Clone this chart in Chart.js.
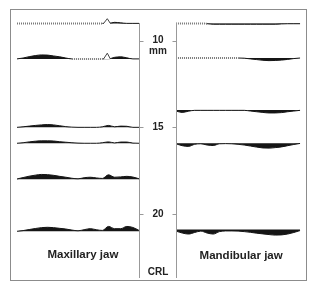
<!DOCTYPE html>
<html>
<head>
<meta charset="utf-8">
<script src="https://cdn.jsdelivr.net/npm/chart.js@4/dist/chart.umd.min.js"></script>
<style>
  html, body { margin: 0; padding: 0; background: #fff; }
  #wrap { width: 313px; height: 288px; }
</style>
</head>
<body>
<div id="wrap"><canvas id="chart" width="313" height="288"></canvas></div>
<script>
// position along each jaw section (0 = start, 100 = end), shared by all profiles
const positions = [0, 5, 10, 15, 20, 25, 30, 35, 40, 45, 50, 55, 60, 65, 70, 75, 80, 85, 90, 95, 100];

// CRL (mm) of each section
const maxillaryCrl = [9.0, 11.05, 15.0, 15.92, 18.0, 21.0];
const mandibularCrl = [9.0, 11.0, 14.0, 15.92, 20.9];

// thickness (mm) of the maxillary profiles
const max1 = [0, 0, 0, 0, 0, 0, 0, 0, 0, 0, 0, 0, 0, 0, 0, 0, 0.06, 0.03, 0, 0, 0];
const max2 = [0, 0.05, 0.13, 0.19, 0.23, 0.22, 0.17, 0.12, 0.05, 0, 0, 0, 0, 0, 0, 0, 0.09, 0.12, 0.06, 0, 0];
const max3 = [0, 0.03, 0.07, 0.11, 0.14, 0.16, 0.14, 0.09, 0.04, 0.01, 0, 0, 0, 0, 0.03, 0.11, 0.03, 0.07, 0.06, 0, 0];
const max4 = [0, 0.03, 0.08, 0.12, 0.14, 0.14, 0.13, 0.09, 0.06, 0.03, 0.01, 0, 0, 0, 0.03, 0.08, 0.02, 0.07, 0.07, 0.01, 0];
const max5 = [0.02, 0.10, 0.18, 0.24, 0.28, 0.27, 0.23, 0.17, 0.12, 0.06, 0.03, 0.09, 0.12, 0.08, 0.05, 0.26, 0.12, 0.14, 0.17, 0.13, 0.03];
const max6 = [0, 0.04, 0.10, 0.16, 0.21, 0.23, 0.21, 0.17, 0.13, 0.07, 0.03, 0.09, 0.15, 0.09, 0.05, 0.28, 0.15, 0.15, 0.28, 0.22, 0.05];

// thickness (mm) of the mandibular profiles
const man1 = [0, 0, 0, 0, 0, 0.02, 0.05, 0.05, 0.05, 0.05, 0.05, 0.05, 0.05, 0.05, 0.05, 0.05, 0.05, 0.03, 0.02, 0.02, 0.02];
const man2 = [0, 0, 0, 0, 0, 0, 0, 0, 0, 0, 0, 0.01, 0.05, 0.09, 0.13, 0.15, 0.14, 0.12, 0.08, 0.03, 0];
const man3 = [0.06, 0.14, 0.07, 0.02, 0.02, 0.02, 0.02, 0.02, 0.02, 0.02, 0.02, 0.02, 0.06, 0.10, 0.14, 0.17, 0.17, 0.15, 0.10, 0.06, 0.02];
const man4 = [0.03, 0.14, 0.18, 0.06, 0.03, 0.10, 0.13, 0.03, 0.02, 0.03, 0.06, 0.10, 0.16, 0.22, 0.27, 0.28, 0.25, 0.21, 0.14, 0.07, 0.01];
const man5 = [0.09, 0.20, 0.26, 0.17, 0.09, 0.20, 0.26, 0.12, 0.08, 0.08, 0.09, 0.12, 0.16, 0.21, 0.25, 0.29, 0.32, 0.31, 0.26, 0.17, 0.06];

const maxillary = [max1, max2, max3, max4, max5, max6];
const mandibular = [man1, man2, man3, man4, man5];

// stippled stretches [from, to] of each profile
const maxillaryDotted = [[[0, 70]], [[45, 70]], [], [], [], []];
const mandibularDotted = [[[0, 25]], [[0, 50]], [], [], []];

// hollow peak on the two upper maxillary sections
const peakPos = [71, 74, 76.5];
const peakHeight = [0.27, 0.33];

// central CRL axis
const tickValues = [10, 15, 20];
const tickLabels = ['10', '15', '20'];
const unitLabel = 'mm';
const axisTitle = 'CRL';
const panelLabels = ['Maxillary jaw', 'Mandibular jaw'];

const INK = '#151515';

function profile(crl, thick, dotted, axis, dir) {
  return {
    data: positions.map((p, i) => ({ x: p, y: crl + dir * thick[i] })),
    xAxisID: axis,
    borderColor: INK,
    borderWidth: 1,
    backgroundColor: INK,
    fill: { value: crl },
    pointRadius: 0,
    cubicInterpolationMode: 'monotone',
    segment: {
      borderColor: ctx => inDots(ctx, dotted) ? '#7a7a7a' : undefined,
      borderDash: ctx => inDots(ctx, dotted) ? [1, 1] : undefined,
      borderWidth: ctx => inDots(ctx, dotted) ? 2 : undefined
    }
  };
}

function inDots(ctx, dotted) {
  return dotted.some(([a, b]) => ctx.p0.parsed.x >= a && ctx.p1.parsed.x <= b);
}

const datasets = [];
maxillary.forEach((t, i) => datasets.push(profile(maxillaryCrl[i], t, maxillaryDotted[i], 'xL', -1)));
mandibular.forEach((t, i) => datasets.push(profile(mandibularCrl[i], t, mandibularDotted[i], 'xR', 1)));
peakHeight.forEach((h, i) => {
  const c = maxillaryCrl[i];
  datasets.push({
    data: [{ x: peakPos[0], y: c }, { x: peakPos[1], y: c - h }, { x: peakPos[2], y: c }],
    xAxisID: 'xL',
    order: -1,
    borderColor: '#444',
    borderWidth: 1,
    backgroundColor: '#fff',
    pointRadius: 0,
    fill: { value: c + 0.03 },
    tension: 0
  });
});

const frame = {
  id: 'frame',
  afterDatasetsDraw(chart) {
    const { ctx, chartArea: a, scales } = chart;
    const y = scales.y, xL = scales.xL, xR = scales.xR;
    const lx = Math.round(xL.getPixelForValue(100)) + 0.5;
    const rx = Math.round(xR.getPixelForValue(0)) + 0.5;
    const top = Math.round(y.getPixelForValue(maxillaryCrl[0]));
    const mid = (lx + rx) / 2;
    ctx.save();
    ctx.strokeStyle = '#8c8c8c';
    ctx.lineWidth = 1;
    ctx.strokeRect(a.left + 0.5, a.top + 0.5, a.right - a.left - 1, a.bottom - a.top - 1);
    ctx.strokeStyle = '#999';
    ctx.beginPath();
    ctx.moveTo(lx, top); ctx.lineTo(lx, a.bottom - 3);
    ctx.moveTo(rx, top); ctx.lineTo(rx, a.bottom - 3);
    tickValues.forEach(v => {
      const ty = Math.round(y.getPixelForValue(v)) + 0.5;
      ctx.moveTo(lx, ty); ctx.lineTo(lx + 4, ty);
      ctx.moveTo(rx - 4, ty); ctx.lineTo(rx, ty);
    });
    ctx.stroke();
    ctx.fillStyle = '#222';
    ctx.textAlign = 'center';
    ctx.textBaseline = 'middle';
    ctx.font = 'bold 10px "Liberation Sans", Arial, sans-serif';
    tickValues.forEach((v, i) => ctx.fillText(tickLabels[i], mid, y.getPixelForValue(v)));
    ctx.fillText(unitLabel, mid, y.getPixelForValue(tickValues[0]) + 11);
    ctx.fillText(axisTitle, mid, a.bottom - 9);
    ctx.font = 'bold 11.5px "Liberation Sans", Arial, sans-serif';
    ctx.fillText(panelLabels[0], xL.getPixelForValue(54), a.bottom - 26);
    ctx.fillText(panelLabels[1], xR.getPixelForValue(52.5), a.bottom - 25);
    ctx.restore();
  }
};

new Chart(document.getElementById('chart'), {
  type: 'line',
  data: { datasets },
  options: {
    responsive: false,
    animation: false,
    layout: { padding: { left: 10, top: 9, right: 6, bottom: 7 } },
    plugins: { legend: { display: false }, tooltip: { enabled: false } },
    scales: {
      xL: { type: 'linear', display: false, min: -5.74, max: 237.7 },
      xR: { type: 'linear', display: false, min: -133.9, max: 105.6 },
      y: { type: 'linear', display: false, reverse: true, min: 8.17, max: 23.87 }
    }
  },
  plugins: [frame]
});
</script>
</body>
</html>
